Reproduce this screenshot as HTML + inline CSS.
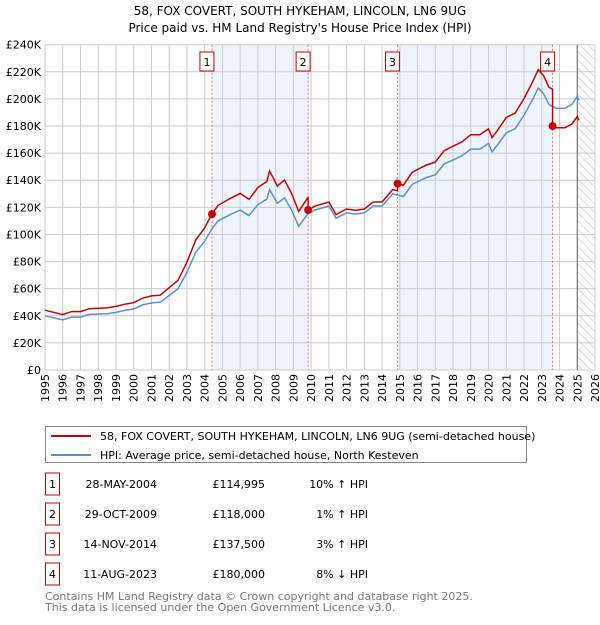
<!DOCTYPE html>
<html><head><meta charset="utf-8"><style>
body{margin:0;background:#fff;font-family:"Liberation Sans","DejaVu Sans",sans-serif;}
svg text{font-family:"DejaVu Sans","Liberation Sans",sans-serif;}
</style></head><body>
<svg id="chart" width="600" height="620" viewBox="0 0 600 620" xmlns="http://www.w3.org/2000/svg">
<defs><pattern id="hatch" width="6" height="6" patternUnits="userSpaceOnUse" patternTransform="rotate(-45)"><line x1="0" y1="0" x2="0" y2="6" stroke="#bbb" stroke-width="1"/></pattern></defs>
<text x="300" y="15" text-anchor="middle" font-size="12">58, FOX COVERT, SOUTH HYKEHAM, LINCOLN, LN6 9UG</text>
<text x="300" y="32" text-anchor="middle" font-size="12">Price paid vs. HM Land Registry's House Price Index (HPI)</text>
<g id="plot"></g>
<g>
<rect x="45.5" y="426.5" width="481" height="36" fill="#fff" stroke="#888"/>
<line x1="51" y1="436" x2="91" y2="436" stroke="#cc0000" stroke-width="2"/>
<text x="100" y="440" font-size="11">58, FOX COVERT, SOUTH HYKEHAM, LINCOLN, LN6 9UG (semi-detached house)</text>
<line x1="51" y1="455" x2="91" y2="455" stroke="#5b8fd4" stroke-width="2"/>
<text x="100" y="459" font-size="11">HPI: Average price, semi-detached house, North Kesteven</text>
</g>
<g id="table"></g>
<text x="45" y="600" font-size="11" fill="#777">Contains HM Land Registry data © Crown copyright and database right 2025.</text>
<text x="45" y="611" font-size="11" fill="#777">This data is licensed under the Open Government Licence v3.0.</text>
</svg>
<script>
const hpiYears=[1995,1996,1996.5,1997,1997.5,1998.5,1999,1999.5,2000,2000.5,2001,2001.5,2002,2002.5,2003,2003.5,2004,2004.4,2004.75,2005.5,2006,2006.5,2007,2007.5,2007.66,2008.1,2008.5,2008.9,2009.3,2009.8,2010.2,2011,2011.4,2012,2012.5,2013,2013.5,2014,2014.6,2015.2,2015.7,2016.5,2017,2017.5,2018,2018.5,2019,2019.5,2020,2020.2,2020.5,2021,2021.5,2022,2022.5,2022.8,2023.1,2023.4,2023.8,2024.3,2024.7,2025.0,2025.1];
const hpiValues=[40,37,39,39,41,41.5,42.5,44,45,48,49.5,50,55,60,72,87,95,104,110,115,118,114,122,126,133,123,127,118,106,115,118,121,112,116,115,116,121,121,130,128,137,142,144,152,155,158,163,163,167,161,166,175,178,188,200,208,204,196,193,193,196,202,199];
const saleYears=[2004.41,2009.83,2014.87,2023.61];
const salePrices=[114.995,118,137.5,180];
const saleLabels=["1","2","3","4"];
const saleDates=["28-MAY-2004","29-OCT-2009","14-NOV-2014","11-AUG-2023"];
const salePriceText=["£114,995","£118,000","£137,500","£180,000"];
const saleHpiText=["10% ↑ HPI","1% ↑ HPI","3% ↑ HPI","8% ↓ HPI"];
const yTicks=[0,20,40,60,80,100,120,140,160,180,200,220,240];
const xTicks=[1995,1996,1997,1998,1999,2000,2001,2002,2003,2004,2005,2006,2007,2008,2009,2010,2011,2012,2013,2014,2015,2016,2017,2018,2019,2020,2021,2022,2023,2024,2025,2026];

const NS="http://www.w3.org/2000/svg";
const X0=45,X1=595,Y0=370,Y1=44.7;
const xs=y=>X0+(y-1995)/(2026-1995)*(X1-X0);
const ys=v=>Y0-v/240*(Y0-Y1);
const plot=document.getElementById('plot');
function mk(tag,attrs,parent){const e=document.createElementNS(NS,tag);for(const k in attrs)e.setAttribute(k,attrs[k]);(parent||plot).appendChild(e);return e;}
function hpiAt(t){for(let i=1;i<hpiYears.length;i++){if(t<=hpiYears[i]){const a=hpiYears[i-1],b=hpiYears[i];return hpiValues[i-1]+(hpiValues[i]-hpiValues[i-1])*(t-a)/(b-a);}}return hpiValues[hpiValues.length-1];}

let e;
e=mk('rect',{x:X0,y:Y1,width:X1-X0,height:Y0-Y1,fill:'#fff'});


[[0,1],[2,3]].forEach(p=>{
 e=mk('rect',{x:xs(saleYears[p[0]]),y:Y1,width:xs(saleYears[p[1]])-xs(saleYears[p[0]]),height:Y0-Y1,fill:'#eef3fc'});
 
 
});
e=mk('rect',{x:xs(2025),y:Y1,width:xs(2026)-xs(2025),height:Y0-Y1,fill:'url(#hatch)'});


xTicks.forEach(t=>{
 e=mk('line',{x1:xs(t),x2:xs(t),y1:Y1,y2:Y0,stroke:'#ccc','stroke-width':1});
 
 
 const tx=xs(t)+4;
 e=mk('text',{x:tx,y:374,'text-anchor':'end','font-size':11,transform:'rotate(-90 '+tx+' 374)'});
 e.textContent=t;
 
 
});
yTicks.forEach(v=>{
 e=mk('line',{x1:X0,x2:X1,y1:ys(v),y2:ys(v),stroke:'#ccc','stroke-width':1});
 
 
 e=mk('text',{x:X0-4,y:ys(v)+4,'text-anchor':'end','font-size':11});
 e.textContent=v===0?'£0':'£'+v+'K';
 
 
});
e=mk('line',{x1:xs(2025),x2:xs(2025),y1:Y1,y2:Y0,stroke:'#666','stroke-width':1});


saleYears.forEach((s,i)=>{
 e=mk('line',{x1:xs(s),x2:xs(s),y1:Y1,y2:Y0,stroke:'#e05050','stroke-width':0.8,'stroke-dasharray':'2,2'});
 
 
 const bx=xs(s)-8;
 e=mk('rect',{x:bx-4,y:52,width:14,height:19,fill:'#fff',stroke:'#cc0000'});
 
 
 e=mk('text',{x:bx+3,y:66,'text-anchor':'middle','font-size':11});
 e.textContent=saleLabels[i];
 
 
});
let d='';hpiYears.forEach((t,i)=>{d+=(i?'L':'M')+xs(t).toFixed(1)+','+ys(hpiValues[i]).toFixed(1);});
e=mk('path',{d:d,fill:'none',stroke:'#5b8fd4','stroke-width':1.5});


const ratios=saleYears.map((s,i)=>salePrices[i]/hpiAt(s));
function ratioAt(t){let r=ratios[0];saleYears.forEach((s,i)=>{if(t>=s)r=ratios[i];});return r;}
let pts=[];
hpiYears.forEach((t,i)=>{
 saleYears.forEach((s,j)=>{const prev=i?hpiYears[i-1]:-1;if(s>prev&&s<=t){pts.push([s,hpiAt(s)*(j?ratios[j-1]:ratios[0])]);pts.push([s,salePrices[j]]);}});
 pts.push([t,hpiValues[i]*ratioAt(t)]);
});
d='';pts.forEach((p,i)=>{d+=(i?'L':'M')+xs(p[0]).toFixed(1)+','+ys(p[1]).toFixed(1);});
e=mk('path',{d:d,fill:'none',stroke:'#cc0000','stroke-width':1.5});


saleYears.forEach((s,i)=>{
 e=mk('circle',{cx:xs(s),cy:ys(salePrices[i]),r:4,fill:'#cc0000'});
 
 
});
const tb=document.getElementById('table');
saleLabels.forEach((l,i)=>{
 const cy=484+i*30;
 e=mk('rect',{x:45.5,y:cy-11,width:14,height:22,fill:'#fff',stroke:'#cc0000'},tb);
 
 
 e=mk('text',{x:52.5,y:cy+4,'text-anchor':'middle','font-size':11},tb);e.textContent=l;
 
 
 e=mk('text',{x:157,y:cy+4,'text-anchor':'end','font-size':11},tb);e.textContent=saleDates[i];
 
 
 e=mk('text',{x:265,y:cy+4,'text-anchor':'end','font-size':11},tb);e.textContent=salePriceText[i];
 
 
 e=mk('text',{x:368,y:cy+4,'text-anchor':'end','font-size':11},tb);e.textContent=saleHpiText[i];
 
 
});
</script>
</body></html>
